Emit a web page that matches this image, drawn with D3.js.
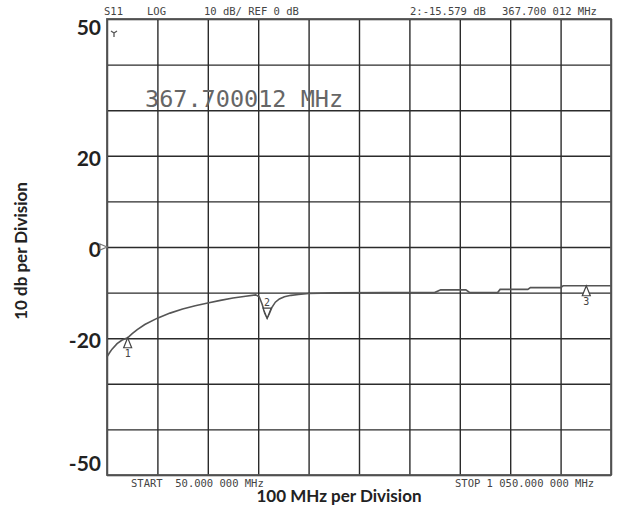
<!DOCTYPE html>
<html>
<head>
<meta charset="utf-8">
<script src="https://cdn.jsdelivr.net/npm/d3@7"></script>
<style>
  body { margin: 0; background: #fff; }
  svg { display: block; }
</style>
</head>
<body>
<div id="chart"></div>
<script>
// trace (MHz, dB)
let freqMHz = [50, 55, 60, 70, 80, 91, 100, 110, 125, 150, 175, 200, 225, 250, 275, 300, 325, 345,
  352, 358, 363, 367.7, 372, 377, 384, 392, 402, 415, 430, 450, 500, 600, 700,
  712, 762, 770, 825, 830, 885, 890, 950, 955, 1050];
let traceDB = [-24.1, -23.2, -22.4, -21.2, -20.4, -19.9, -19.0, -18.1, -17.0, -15.6, -14.5, -13.6, -12.9, -12.3, -11.7, -11.2, -10.8, -10.5,
  -10.9, -12.6, -14.5, -15.6, -14.6, -13.3, -12.1, -11.4, -10.9, -10.6, -10.4, -10.2, -10.05, -10.0, -10.0,
  -9.4, -9.4, -10.0, -10.0, -9.3, -9.3, -8.9, -8.9, -8.5, -8.5];

// markers
let markerNames = ['1', '2', '3'];
let markerFreq = [91, 367.7, 1001];
let markerDB = [-19.9, -15.6, -8.5];
let markerDir = ['up', 'down', 'up'];

// axis
let yTickValues = [50, 20, 0, -20, -50];
let freqDomain = [50, 1050];
let dbDomain = [-50, 50];

// screen annotations
let headerLabels = ['S11', 'LOG', '10 dB/ REF 0 dB', '2:-15.579 dB', '367.700 012 MHz'];
let footerLabels = ['START  50.000 000 MHz', 'STOP 1 050.000 000 MHz'];
let readout = '367.700012 MHz';

let width = 619,
    height = 507;

let margin = {top: 19, bottom: 32, left: 107, right: 8};

let svg = d3.select('#chart')
  .append('svg')
  .attr('width', width)
  .attr('height', height);

let xScale = d3.scaleLinear()
  .domain(freqDomain)
  .range([margin.left, width - margin.right]);

let yScale = d3.scaleLinear()
  .domain(dbDomain)
  .range([height - margin.bottom, margin.top]);

// grid - 100 MHz and 10 dB per division
svg.append('g')
  .attr('transform', `translate(0,${height - margin.bottom})`)
  .call(d3.axisBottom(xScale).tickValues(d3.range(50, 1051, 100))
    .tickSize(-(height - margin.bottom - margin.top)).tickFormat(''))
  .call(g => g.select('.domain').remove())
  .selectAll('line')
  .attr('stroke', '#2b2b2b')
  .attr('stroke-width', 1.4);

svg.append('g')
  .attr('transform', `translate(${margin.left},0)`)
  .call(d3.axisLeft(yScale).tickValues(d3.range(-50, 51, 10))
    .tickSize(-(width - margin.right - margin.left)).tickFormat(''))
  .call(g => g.select('.domain').remove())
  .selectAll('line')
  .attr('stroke', '#2b2b2b')
  .attr('stroke-width', 1.4);

// frame
svg.append('rect')
  .attr('x', margin.left)
  .attr('y', margin.top)
  .attr('width', width - margin.right - margin.left)
  .attr('height', height - margin.bottom - margin.top)
  .attr('fill', 'none')
  .attr('stroke', '#555')
  .attr('stroke-width', 1.8);

// y tick labels (plain hyphen like the original)
let yAxis = svg.append('g')
  .attr('transform', `translate(${margin.left - 6},0)`)
  .call(d3.axisLeft(yScale).tickValues(yTickValues).tickSize(0).tickPadding(0)
    .tickFormat(d => String(d)))
  .call(g => g.select('.domain').remove());

yAxis.selectAll('text')
  .style('font-family', 'Lato, "Open Sans", sans-serif')
  .style('font-weight', 'bold')
  .style('font-size', '21px')
  .attr('fill', '#222')
  .attr('dy', d => d == 50 ? '0.75em' : d == -50 ? '-0.2em' : '0.45em');

// ref level pointer
svg.append('path')
  .attr('d', `M${margin.left - 7},${yScale(0) - 3}L${margin.left},${yScale(0)}L${margin.left - 7},${yScale(0) + 3}Z`)
  .attr('fill', '#fff')
  .attr('stroke', '#777')
  .attr('stroke-width', 1.2);

// axis titles
svg.append('text')
  .attr('x', 339)
  .attr('y', 502)
  .text('100 MHz per Division')
  .style('text-anchor', 'middle')
  .style('font-family', 'Lato, "Open Sans", sans-serif')
  .style('font-weight', 'bold')
  .style('font-size', '17px')
  .attr('fill', '#222');

svg.append('text')
  .attr('transform', 'translate(27,251) rotate(-90)')
  .text('10 db per Division')
  .style('text-anchor', 'middle')
  .style('font-family', 'Lato, "Open Sans", sans-serif')
  .style('font-weight', 'bold')
  .style('font-size', '17px')
  .attr('fill', '#222');

// analyzer annotations
let headerX = [104, 147, 204, 410, 502];
svg.selectAll('.hdr')
  .data(headerLabels)
  .enter()
  .append('text')
  .attr('class', 'hdr')
  .attr('x', (d, i) => headerX[i])
  .attr('y', 15)
  .text(d => d)
  .style('font-family', '"DejaVu Sans Mono", monospace')
  .style('font-size', '10.5px')
  .style('white-space', 'pre')
  .attr('fill', '#444');

let footerX = [131, 455];
svg.selectAll('.ftr')
  .data(footerLabels)
  .enter()
  .append('text')
  .attr('class', 'ftr')
  .attr('x', (d, i) => footerX[i])
  .attr('y', 487)
  .text(d => d)
  .style('font-family', '"DejaVu Sans Mono", monospace')
  .style('font-size', '10.5px')
  .style('white-space', 'pre')
  .attr('fill', '#444');

svg.append('text')
  .attr('x', 145)
  .attr('y', 107)
  .text(readout)
  .style('font-family', '"DejaVu Sans Mono", monospace')
  .style('font-size', '23.5px')
  .attr('fill', '#666');

// small cursor glyph top-left
svg.append('path')
  .attr('d', 'M111,31L114,33L117,31M114,33L114,37')
  .attr('fill', 'none')
  .attr('stroke', '#555')
  .attr('stroke-width', 1.3);

// trace
let trace = freqMHz.map((f, i) => ({f: f, db: traceDB[i]}));

svg.append('path')
  .datum(trace)
  .attr('d', d3.line().x(d => xScale(d.f)).y(d => yScale(d.db)))
  .attr('fill', 'none')
  .attr('stroke', '#555')
  .attr('stroke-width', 1.6);

// markers
let markers = markerNames.map((m, i) => ({name: m, f: markerFreq[i], db: markerDB[i], dir: markerDir[i]}));

let mk = svg.selectAll('.marker')
  .data(markers)
  .enter()
  .append('g')
  .attr('class', 'marker')
  .attr('transform', d => `translate(${xScale(d.f)},${yScale(d.db)})`);

mk.append('path')
  .attr('d', d => d.dir == 'up' ? 'M0,0L-4,10L4,10Z' : 'M0,0L-4,-10L4,-10Z')
  .attr('fill', '#fff')
  .attr('stroke', '#444')
  .attr('stroke-width', 1.2);

mk.append('text')
  .attr('y', d => d.dir == 'up' ? 19 : -12)
  .text(d => d.name)
  .style('text-anchor', 'middle')
  .style('font-family', '"DejaVu Sans Mono", monospace')
  .style('font-size', '10px')
  .attr('fill', '#444');
</script>
</body>
</html>
